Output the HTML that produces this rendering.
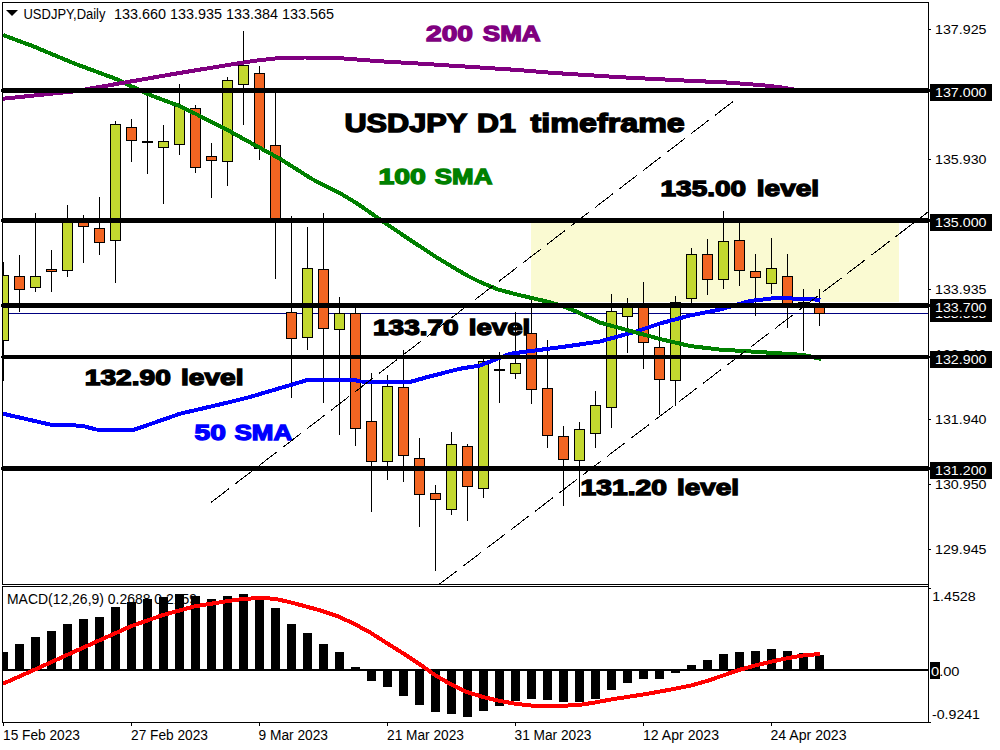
<!DOCTYPE html>
<html><head><meta charset="utf-8"><title>USDJPY D1</title>
<style>
html,body{margin:0;padding:0;background:#fff;}
body{width:1000px;height:750px;overflow:hidden;font-family:"Liberation Sans",sans-serif;}
svg{display:block;}
text{font-family:"Liberation Sans",sans-serif;}
.ax{font-size:13.5px;fill:#000;}
.axw{font-size:13.5px;fill:#fff;}
.big{font-weight:bold;stroke-linejoin:miter;stroke-miterlimit:3;}
</style></head><body>
<svg width="1000" height="750" viewBox="0 0 1000 750">
<rect x="0" y="0" width="1000" height="750" fill="#fff"/>
<defs><clipPath id="cm"><rect x="3" y="3" width="925" height="581"/></clipPath>
<clipPath id="ci"><rect x="3" y="587" width="925" height="135"/></clipPath></defs>

<rect x="531" y="222" width="368" height="80" fill="#FAFAD2"/>
<text class="big" x="426.0" y="40.6" textLength="47.02" lengthAdjust="spacingAndGlyphs" font-size="22.3" fill="#800080" stroke="#800080" stroke-width="1.3">200</text>
<text class="big" x="482.8" y="40.6" textLength="57.81" lengthAdjust="spacingAndGlyphs" font-size="22.3" fill="#800080" stroke="#800080" stroke-width="1.3">SMA</text>
<text class="big" x="344.4" y="132.2" textLength="122.81" lengthAdjust="spacingAndGlyphs" font-size="26.3" fill="#000" stroke="#000" stroke-width="1.4">USDJPY</text>
<text class="big" x="477.0" y="132.2" textLength="38.89" lengthAdjust="spacingAndGlyphs" font-size="26.3" fill="#000" stroke="#000" stroke-width="1.4">D1</text>
<text class="big" x="530.6" y="132.2" textLength="154.2" lengthAdjust="spacingAndGlyphs" font-size="26.3" fill="#000" stroke="#000" stroke-width="1.4">timeframe</text>
<text class="big" x="378.4" y="184" textLength="47.47" lengthAdjust="spacingAndGlyphs" font-size="22.3" fill="#008000" stroke="#008000" stroke-width="1.3">100</text>
<text class="big" x="434.8" y="184" textLength="57.61" lengthAdjust="spacingAndGlyphs" font-size="22.3" fill="#008000" stroke="#008000" stroke-width="1.3">SMA</text>
<text class="big" x="660.6" y="196.2" textLength="85.41" lengthAdjust="spacingAndGlyphs" font-size="21.7" fill="#000" stroke="#000" stroke-width="1.3">135.00</text>
<text class="big" x="756.8" y="196.2" textLength="62.28" lengthAdjust="spacingAndGlyphs" font-size="21.7" fill="#000" stroke="#000" stroke-width="1.3">level</text>
<text class="big" x="373.0" y="334.6" textLength="85.61" lengthAdjust="spacingAndGlyphs" font-size="21.7" fill="#000" stroke="#000" stroke-width="1.3">133.70</text>
<text class="big" x="468.8" y="334.6" textLength="61.47" lengthAdjust="spacingAndGlyphs" font-size="21.7" fill="#000" stroke="#000" stroke-width="1.3">level</text>
<text class="big" x="84.8" y="384.8" textLength="86.01" lengthAdjust="spacingAndGlyphs" font-size="21.7" fill="#000" stroke="#000" stroke-width="1.3">132.90</text>
<text class="big" x="181.0" y="384.8" textLength="62.49" lengthAdjust="spacingAndGlyphs" font-size="21.7" fill="#000" stroke="#000" stroke-width="1.3">level</text>
<text class="big" x="194.5" y="440" textLength="31.36" lengthAdjust="spacingAndGlyphs" font-size="22.3" fill="#0000FF" stroke="#0000FF" stroke-width="1.3">50</text>
<text class="big" x="234.4" y="440" textLength="57.81" lengthAdjust="spacingAndGlyphs" font-size="22.3" fill="#0000FF" stroke="#0000FF" stroke-width="1.3">SMA</text>
<text class="big" x="580.6" y="495.2" textLength="86.44" lengthAdjust="spacingAndGlyphs" font-size="21.7" fill="#000" stroke="#000" stroke-width="1.3">131.20</text>
<text class="big" x="677.0" y="495.2" textLength="62.07" lengthAdjust="spacingAndGlyphs" font-size="21.7" fill="#000" stroke="#000" stroke-width="1.3">level</text>
<rect x="3" y="313" width="925" height="1" fill="#000080" shape-rendering="crispEdges"/>
<g clip-path="url(#cm)" shape-rendering="crispEdges">
<rect x="3" y="262" width="1" height="119" fill="#000"/>
<rect x="-2" y="275" width="11" height="66" fill="#000"/>
<rect x="-1" y="276" width="9" height="64" fill="#C3D82F"/>
<rect x="19" y="255" width="1" height="57" fill="#000"/>
<rect x="14" y="276" width="11" height="14" fill="#000"/>
<rect x="15" y="277" width="9" height="12" fill="#F26522"/>
<rect x="35" y="213" width="1" height="79" fill="#000"/>
<rect x="30" y="276" width="11" height="12" fill="#000"/>
<rect x="31" y="277" width="9" height="10" fill="#C3D82F"/>
<rect x="51" y="250" width="1" height="42" fill="#000"/>
<rect x="46" y="269" width="11" height="3" fill="#000"/>
<rect x="47" y="270" width="9" height="1" fill="#F26522"/>
<rect x="67" y="205" width="1" height="72" fill="#000"/>
<rect x="62" y="222" width="11" height="49" fill="#000"/>
<rect x="63" y="223" width="9" height="47" fill="#C3D82F"/>
<rect x="83" y="215" width="1" height="48" fill="#000"/>
<rect x="78" y="221" width="11" height="6" fill="#000"/>
<rect x="79" y="222" width="9" height="4" fill="#F26522"/>
<rect x="99" y="197" width="1" height="58" fill="#000"/>
<rect x="94" y="228" width="11" height="15" fill="#000"/>
<rect x="95" y="229" width="9" height="13" fill="#F26522"/>
<rect x="115" y="121" width="1" height="162" fill="#000"/>
<rect x="110" y="124" width="11" height="117" fill="#000"/>
<rect x="111" y="125" width="9" height="115" fill="#C3D82F"/>
<rect x="131" y="119" width="1" height="43" fill="#000"/>
<rect x="126" y="127" width="11" height="14" fill="#000"/>
<rect x="127" y="128" width="9" height="12" fill="#F26522"/>
<rect x="147" y="92" width="1" height="82" fill="#000"/>
<rect x="142" y="141" width="11" height="2" fill="#000"/>
<rect x="163" y="125" width="1" height="79" fill="#000"/>
<rect x="158" y="141" width="11" height="7" fill="#000"/>
<rect x="159" y="142" width="9" height="5" fill="#C3D82F"/>
<rect x="179" y="84" width="1" height="71" fill="#000"/>
<rect x="174" y="106" width="11" height="39" fill="#000"/>
<rect x="175" y="107" width="9" height="37" fill="#C3D82F"/>
<rect x="195" y="105" width="1" height="68" fill="#000"/>
<rect x="190" y="108" width="11" height="60" fill="#000"/>
<rect x="191" y="109" width="9" height="58" fill="#F26522"/>
<rect x="211" y="143" width="1" height="55" fill="#000"/>
<rect x="206" y="156" width="11" height="5" fill="#000"/>
<rect x="207" y="157" width="9" height="3" fill="#F26522"/>
<rect x="227" y="77" width="1" height="109" fill="#000"/>
<rect x="222" y="80" width="11" height="82" fill="#000"/>
<rect x="223" y="81" width="9" height="80" fill="#C3D82F"/>
<rect x="243" y="31" width="1" height="94" fill="#000"/>
<rect x="238" y="65" width="11" height="20" fill="#000"/>
<rect x="239" y="66" width="9" height="18" fill="#C3D82F"/>
<rect x="259" y="66" width="1" height="94" fill="#000"/>
<rect x="254" y="73" width="11" height="76" fill="#000"/>
<rect x="255" y="74" width="9" height="74" fill="#F26522"/>
<rect x="275" y="92" width="1" height="187" fill="#000"/>
<rect x="270" y="145" width="11" height="74" fill="#000"/>
<rect x="271" y="146" width="9" height="72" fill="#F26522"/>
<rect x="291" y="216" width="1" height="182" fill="#000"/>
<rect x="286" y="312" width="11" height="27" fill="#000"/>
<rect x="287" y="313" width="9" height="25" fill="#F26522"/>
<rect x="307" y="227" width="1" height="123" fill="#000"/>
<rect x="302" y="268" width="11" height="70" fill="#000"/>
<rect x="303" y="269" width="9" height="68" fill="#C3D82F"/>
<rect x="323" y="213" width="1" height="190" fill="#000"/>
<rect x="318" y="269" width="11" height="60" fill="#000"/>
<rect x="319" y="270" width="9" height="58" fill="#F26522"/>
<rect x="339" y="297" width="1" height="138" fill="#000"/>
<rect x="334" y="313" width="11" height="17" fill="#000"/>
<rect x="335" y="314" width="9" height="15" fill="#C3D82F"/>
<rect x="355" y="308" width="1" height="138" fill="#000"/>
<rect x="350" y="313" width="11" height="116" fill="#000"/>
<rect x="351" y="314" width="9" height="114" fill="#F26522"/>
<rect x="371" y="373" width="1" height="139" fill="#000"/>
<rect x="366" y="421" width="11" height="41" fill="#000"/>
<rect x="367" y="422" width="9" height="39" fill="#F26522"/>
<rect x="387" y="375" width="1" height="105" fill="#000"/>
<rect x="382" y="386" width="11" height="76" fill="#000"/>
<rect x="383" y="387" width="9" height="74" fill="#C3D82F"/>
<rect x="403" y="350" width="1" height="132" fill="#000"/>
<rect x="398" y="387" width="11" height="69" fill="#000"/>
<rect x="399" y="388" width="9" height="67" fill="#F26522"/>
<rect x="419" y="438" width="1" height="89" fill="#000"/>
<rect x="414" y="458" width="11" height="37" fill="#000"/>
<rect x="415" y="459" width="9" height="35" fill="#F26522"/>
<rect x="435" y="485" width="1" height="86" fill="#000"/>
<rect x="430" y="493" width="11" height="7" fill="#000"/>
<rect x="431" y="494" width="9" height="5" fill="#F26522"/>
<rect x="451" y="432" width="1" height="83" fill="#000"/>
<rect x="446" y="444" width="11" height="66" fill="#000"/>
<rect x="447" y="445" width="9" height="64" fill="#C3D82F"/>
<rect x="467" y="444" width="1" height="77" fill="#000"/>
<rect x="462" y="446" width="11" height="41" fill="#000"/>
<rect x="463" y="447" width="9" height="39" fill="#F26522"/>
<rect x="483" y="358" width="1" height="140" fill="#000"/>
<rect x="478" y="361" width="11" height="128" fill="#000"/>
<rect x="479" y="362" width="9" height="126" fill="#C3D82F"/>
<rect x="499" y="352" width="1" height="51" fill="#000"/>
<rect x="494" y="369" width="11" height="2" fill="#000"/>
<rect x="515" y="312" width="1" height="67" fill="#000"/>
<rect x="510" y="363" width="11" height="11" fill="#000"/>
<rect x="511" y="364" width="9" height="9" fill="#C3D82F"/>
<rect x="531" y="300" width="1" height="104" fill="#000"/>
<rect x="526" y="333" width="11" height="57" fill="#000"/>
<rect x="527" y="334" width="9" height="55" fill="#F26522"/>
<rect x="547" y="340" width="1" height="108" fill="#000"/>
<rect x="542" y="388" width="11" height="48" fill="#000"/>
<rect x="543" y="389" width="9" height="46" fill="#F26522"/>
<rect x="563" y="426" width="1" height="80" fill="#000"/>
<rect x="558" y="436" width="11" height="24" fill="#000"/>
<rect x="559" y="437" width="9" height="22" fill="#F26522"/>
<rect x="579" y="422" width="1" height="75" fill="#000"/>
<rect x="574" y="429" width="11" height="32" fill="#000"/>
<rect x="575" y="430" width="9" height="30" fill="#C3D82F"/>
<rect x="595" y="391" width="1" height="57" fill="#000"/>
<rect x="590" y="405" width="11" height="29" fill="#000"/>
<rect x="591" y="406" width="9" height="27" fill="#C3D82F"/>
<rect x="611" y="294" width="1" height="134" fill="#000"/>
<rect x="606" y="311" width="11" height="97" fill="#000"/>
<rect x="607" y="312" width="9" height="95" fill="#C3D82F"/>
<rect x="627" y="298" width="1" height="55" fill="#000"/>
<rect x="622" y="305" width="11" height="12" fill="#000"/>
<rect x="623" y="306" width="9" height="10" fill="#C3D82F"/>
<rect x="643" y="282" width="1" height="87" fill="#000"/>
<rect x="638" y="305" width="11" height="38" fill="#000"/>
<rect x="639" y="306" width="9" height="36" fill="#F26522"/>
<rect x="659" y="325" width="1" height="90" fill="#000"/>
<rect x="654" y="347" width="11" height="33" fill="#000"/>
<rect x="655" y="348" width="9" height="31" fill="#F26522"/>
<rect x="675" y="296" width="1" height="110" fill="#000"/>
<rect x="670" y="302" width="11" height="79" fill="#000"/>
<rect x="671" y="303" width="9" height="77" fill="#C3D82F"/>
<rect x="691" y="248" width="1" height="56" fill="#000"/>
<rect x="686" y="254" width="11" height="45" fill="#000"/>
<rect x="687" y="255" width="9" height="43" fill="#C3D82F"/>
<rect x="707" y="239" width="1" height="56" fill="#000"/>
<rect x="702" y="254" width="11" height="26" fill="#000"/>
<rect x="703" y="255" width="9" height="24" fill="#F26522"/>
<rect x="723" y="211" width="1" height="78" fill="#000"/>
<rect x="718" y="241" width="11" height="39" fill="#000"/>
<rect x="719" y="242" width="9" height="37" fill="#C3D82F"/>
<rect x="739" y="222" width="1" height="64" fill="#000"/>
<rect x="734" y="240" width="11" height="31" fill="#000"/>
<rect x="735" y="241" width="9" height="29" fill="#F26522"/>
<rect x="755" y="254" width="1" height="62" fill="#000"/>
<rect x="750" y="271" width="11" height="7" fill="#000"/>
<rect x="751" y="272" width="9" height="5" fill="#F26522"/>
<rect x="771" y="238" width="1" height="56" fill="#000"/>
<rect x="766" y="268" width="11" height="16" fill="#000"/>
<rect x="767" y="269" width="9" height="14" fill="#C3D82F"/>
<rect x="787" y="254" width="1" height="74" fill="#000"/>
<rect x="782" y="276" width="11" height="29" fill="#000"/>
<rect x="783" y="277" width="9" height="27" fill="#F26522"/>
<rect x="803" y="289" width="1" height="62" fill="#000"/>
<rect x="798" y="302" width="11" height="5" fill="#000"/>
<rect x="799" y="303" width="9" height="3" fill="#C3D82F"/>
<rect x="819" y="289" width="1" height="37" fill="#000"/>
<rect x="814" y="306" width="11" height="8" fill="#000"/>
<rect x="815" y="307" width="9" height="6" fill="#F26522"/>
</g>
<g clip-path="url(#cm)">
<g shape-rendering="crispEdges">
<path d="M3,413.75 L50,424.5 L82,425.75 L96,429.5 L132,430.5 L180,413.75 L230,402 L250,397 L307.5,380 L355,380 L360,381.5 L410,382 L427.5,377 L460,368.75 L480,365.5 L510,353.75 L567.5,346.25 L600,341.5 L636,331.5 L660,323.5 L690,315.5 L720,309.5 L750,301 L774,298.2 L798,298.6 L820.5,299.8" fill="none" stroke="#0000FF" stroke-width="4.0" stroke-linejoin="round" stroke-linecap="butt"/>
<path d="M3,35 L32.5,46 L75,63.75 L115.5,78.75 L150,95 L179.5,106 L195.5,113.75 L227.5,130 L250,142.5 L281,159.4 L312,179 L343,195 L358.5,204.4 L380,219.5 L405,236.5 L436,257 L467,275.5 L480,282 L498,289.5 L515,294 L529,297.4 L542.5,300.5 L560,305 L575,311 L600,322.6 L636,332.5 L660,339 L690,346 L720,349.6 L756,351.8 L792,354.2 L804,355 L821,359" fill="none" stroke="#008000" stroke-width="4.0" stroke-linejoin="round" stroke-linecap="butt"/>
<path d="M3,98.75 L75,91.25 L125,82.5 L175,73.75 L225,65.5 L255,60.75 L277.5,58.2 L305,57.5 L340,58.2 L380,61.25 L430,64.25 L480,67.5 L515,69.8 L550,72.7 L620,77.2 L690,80.8 L725,82.4 L760,85 L780,87.2 L797,90 L820,91" fill="none" stroke="#800080" stroke-width="4.0" stroke-linejoin="round" stroke-linecap="butt"/>
</g>
<path d="M211,502.5 L735,100" stroke="#000" stroke-width="1" fill="none" stroke-dasharray="22.7 7.56" shape-rendering="crispEdges"/>
<path d="M439,584.5 L928,212" stroke="#000" stroke-width="1" fill="none" stroke-dasharray="22.7 7.5" shape-rendering="crispEdges"/>
<path d="M895,237.1 L928,212" stroke="#000" stroke-width="1" fill="none" shape-rendering="crispEdges"/>
</g>
<rect x="2" y="88" width="927" height="5" fill="#000" shape-rendering="crispEdges"/>
<rect x="929" y="89" width="1" height="3" fill="#000" shape-rendering="crispEdges"/>
<rect x="1" y="89" width="1" height="3" fill="#000" shape-rendering="crispEdges"/>
<rect x="2" y="218" width="927" height="5" fill="#000" shape-rendering="crispEdges"/>
<rect x="929" y="219" width="1" height="3" fill="#000" shape-rendering="crispEdges"/>
<rect x="1" y="219" width="1" height="3" fill="#000" shape-rendering="crispEdges"/>
<rect x="2" y="303" width="927" height="5" fill="#000" shape-rendering="crispEdges"/>
<rect x="929" y="304" width="1" height="3" fill="#000" shape-rendering="crispEdges"/>
<rect x="1" y="304" width="1" height="3" fill="#000" shape-rendering="crispEdges"/>
<rect x="2" y="355" width="927" height="4" fill="#000" shape-rendering="crispEdges"/>
<rect x="929" y="356" width="1" height="2" fill="#000" shape-rendering="crispEdges"/>
<rect x="1" y="356" width="1" height="2" fill="#000" shape-rendering="crispEdges"/>
<rect x="2" y="466" width="927" height="5" fill="#000" shape-rendering="crispEdges"/>
<rect x="929" y="467" width="1" height="3" fill="#000" shape-rendering="crispEdges"/>
<rect x="1" y="467" width="1" height="3" fill="#000" shape-rendering="crispEdges"/>
<g shape-rendering="crispEdges" fill="#000">
<rect x="2" y="2" width="927" height="1"/>
<rect x="2" y="2" width="1" height="721"/>
<rect x="928" y="2" width="1" height="721"/>
<rect x="2" y="584" width="927" height="1"/>
<rect x="2" y="585" width="926" height="1" fill="#fff"/>
<rect x="2" y="586" width="927" height="1"/>
<rect x="2" y="722" width="927" height="1"/>
<rect x="929" y="29" width="2" height="1"/>
<rect x="929" y="159" width="2" height="1"/>
<rect x="929" y="289" width="2" height="1"/>
<rect x="929" y="419" width="2" height="1"/>
<rect x="929" y="484" width="2" height="1"/>
<rect x="929" y="549" width="2" height="1"/>
<rect x="929" y="588" width="2" height="1"/>
<rect x="929" y="722" width="2" height="1"/>
<rect x="3" y="723" width="1" height="3"/>
<rect x="131" y="723" width="1" height="3"/>
<rect x="259" y="723" width="1" height="3"/>
<rect x="387" y="723" width="1" height="3"/>
<rect x="515" y="723" width="1" height="3"/>
<rect x="643" y="723" width="1" height="3"/>
<rect x="771" y="723" width="1" height="3"/>
</g>
<g clip-path="url(#ci)">
<g shape-rendering="crispEdges" fill="#000">
<rect x="-1" y="652" width="9" height="18"/>
<rect x="15" y="644" width="9" height="26"/>
<rect x="31" y="637" width="9" height="33"/>
<rect x="47" y="631" width="9" height="39"/>
<rect x="63" y="624" width="9" height="46"/>
<rect x="79" y="619" width="9" height="51"/>
<rect x="95" y="617" width="9" height="53"/>
<rect x="111" y="607" width="9" height="63"/>
<rect x="127" y="602" width="9" height="68"/>
<rect x="143" y="599" width="9" height="71"/>
<rect x="159" y="597" width="9" height="73"/>
<rect x="175" y="594" width="9" height="76"/>
<rect x="191" y="596" width="9" height="74"/>
<rect x="207" y="599" width="9" height="71"/>
<rect x="223" y="596" width="9" height="74"/>
<rect x="239" y="594" width="9" height="76"/>
<rect x="255" y="597" width="9" height="73"/>
<rect x="271" y="608" width="9" height="62"/>
<rect x="287" y="624" width="9" height="46"/>
<rect x="303" y="633" width="9" height="37"/>
<rect x="319" y="644" width="9" height="26"/>
<rect x="335" y="652" width="9" height="18"/>
<rect x="351" y="667" width="9" height="3"/>
<rect x="367" y="670" width="9" height="11"/>
<rect x="383" y="670" width="9" height="17"/>
<rect x="399" y="670" width="9" height="26"/>
<rect x="415" y="670" width="9" height="35"/>
<rect x="431" y="670" width="9" height="42"/>
<rect x="447" y="670" width="9" height="44"/>
<rect x="463" y="670" width="9" height="47"/>
<rect x="479" y="670" width="9" height="41"/>
<rect x="495" y="670" width="9" height="36"/>
<rect x="511" y="670" width="9" height="31"/>
<rect x="527" y="670" width="9" height="29"/>
<rect x="543" y="670" width="9" height="30"/>
<rect x="559" y="670" width="9" height="32"/>
<rect x="575" y="670" width="9" height="32"/>
<rect x="591" y="670" width="9" height="29"/>
<rect x="607" y="670" width="9" height="20"/>
<rect x="623" y="670" width="9" height="13"/>
<rect x="639" y="670" width="9" height="9"/>
<rect x="655" y="670" width="9" height="9"/>
<rect x="671" y="670" width="9" height="3"/>
<rect x="687" y="665" width="9" height="5"/>
<rect x="703" y="660" width="9" height="10"/>
<rect x="719" y="654" width="9" height="16"/>
<rect x="735" y="652" width="9" height="18"/>
<rect x="751" y="651" width="9" height="19"/>
<rect x="767" y="649" width="9" height="21"/>
<rect x="783" y="651" width="9" height="19"/>
<rect x="799" y="653" width="9" height="17"/>
<rect x="815" y="655" width="9" height="15"/>
<rect x="3" y="669" width="925" height="2"/>
</g>
<g shape-rendering="crispEdges"><path d="M3,683.75 L35,669.5 L67,655 L99,640.5 L131,626.25 L163,615 L195,606.25 L227,601.25 L243,599 L259,598 L275,598.75 L291,602.5 L307,606.75 L323,611.25 L339,616.75 L355,624.25 L371,633 L387,643.25 L403,653.25 L419,663.75 L435,675 L451,684.5 L467,692 L483,697 L499,700.75 L515,703.75 L531,705.5 L547,706 L563,705.75 L579,705 L595,702.5 L611,699.5 L627,697 L643,694.5 L659,691.75 L675,688.75 L691,685.5 L707,681 L723,675.5 L739,670 L755,665.5 L771,661.75 L787,658.25 L803,655.5 L820,654" fill="none" stroke="#FF0000" stroke-width="4.0" stroke-linejoin="round" stroke-linecap="butt"/></g>
</g>
<text class="ax" x="935" y="34.2" textLength="51.5" lengthAdjust="spacingAndGlyphs">137.925</text>
<text class="ax" x="935" y="164.2" textLength="51.5" lengthAdjust="spacingAndGlyphs">135.930</text>
<text class="ax" x="935" y="294.2" textLength="51.5" lengthAdjust="spacingAndGlyphs">133.935</text>
<text class="ax" x="935" y="359.2" textLength="51.5" lengthAdjust="spacingAndGlyphs">132.940</text>
<text class="ax" x="935" y="424.2" textLength="51.5" lengthAdjust="spacingAndGlyphs">131.940</text>
<text class="ax" x="935" y="489.2" textLength="51.5" lengthAdjust="spacingAndGlyphs">130.950</text>
<text class="ax" x="935" y="554.2" textLength="51.5" lengthAdjust="spacingAndGlyphs">129.945</text>
<rect x="930" y="305" width="62" height="17" fill="#000"/>
<text class="axw" x="935" y="318.2" textLength="51.5" lengthAdjust="spacingAndGlyphs">133.565</text>
<rect x="930" y="84" width="62" height="17" fill="#000"/>
<text class="axw" x="935" y="97.2" textLength="51.5" lengthAdjust="spacingAndGlyphs">137.000</text>
<rect x="930" y="214" width="62" height="17" fill="#000"/>
<text class="axw" x="935" y="227.2" textLength="51.5" lengthAdjust="spacingAndGlyphs">135.000</text>
<rect x="930" y="299" width="62" height="17" fill="#000"/>
<text class="axw" x="935" y="312.2" textLength="51.5" lengthAdjust="spacingAndGlyphs">133.700</text>
<rect x="930" y="351" width="62" height="17" fill="#000"/>
<text class="axw" x="935" y="364.2" textLength="51.5" lengthAdjust="spacingAndGlyphs">132.900</text>
<rect x="930" y="462" width="62" height="17" fill="#000"/>
<text class="axw" x="935" y="475.2" textLength="51.5" lengthAdjust="spacingAndGlyphs">131.200</text>
<text class="ax" x="932.2" y="601.3" textLength="43.5" lengthAdjust="spacingAndGlyphs">1.4528</text>
<text class="ax" x="932" y="718.7" textLength="48" lengthAdjust="spacingAndGlyphs">-0.9241</text>
<rect x="930" y="662" width="10" height="17" fill="#000"/>
<text class="ax" x="931" y="676" textLength="28.5" lengthAdjust="spacingAndGlyphs"><tspan fill="#fff">0</tspan>.00</text>
<path d="M6,10 L18,10 L12,16 Z" fill="#000"/>
<text class="ax" x="23.5" y="18.6" textLength="82" lengthAdjust="spacingAndGlyphs" style="font-size:14px">USDJPY,Daily</text>
<text class="ax" x="114" y="18.6" textLength="220" lengthAdjust="spacingAndGlyphs" style="font-size:14px">133.660 133.935 133.384 133.565</text>
<text class="ax" x="7" y="603.7" textLength="190" lengthAdjust="spacingAndGlyphs" style="font-size:14px">MACD(12,26,9) 0.2688 0.2159</text>
<text class="ax" x="3" y="740.4" textLength="77" lengthAdjust="spacingAndGlyphs" style="font-size:14px">15 Feb 2023</text>
<text class="ax" x="131" y="740.4" textLength="77" lengthAdjust="spacingAndGlyphs" style="font-size:14px">27 Feb 2023</text>
<text class="ax" x="258.5" y="740.4" textLength="69.5" lengthAdjust="spacingAndGlyphs" style="font-size:14px">9 Mar 2023</text>
<text class="ax" x="387" y="740.4" textLength="77" lengthAdjust="spacingAndGlyphs" style="font-size:14px">21 Mar 2023</text>
<text class="ax" x="514.5" y="740.4" textLength="77" lengthAdjust="spacingAndGlyphs" style="font-size:14px">31 Mar 2023</text>
<text class="ax" x="643" y="740.4" textLength="76" lengthAdjust="spacingAndGlyphs" style="font-size:14px">12 Apr 2023</text>
<text class="ax" x="770.5" y="740.4" textLength="76" lengthAdjust="spacingAndGlyphs" style="font-size:14px">24 Apr 2023</text>
</svg></body></html>
